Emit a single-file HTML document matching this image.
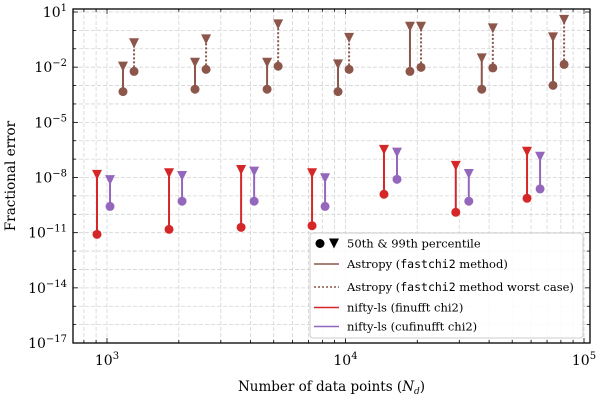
<!DOCTYPE html>
<html><head><meta charset="utf-8"><style>
body{margin:0;background:#fff;}
svg{display:block;font-family:"DejaVu Serif","Liberation Serif",serif;}
</style></head><body>
<svg id="chart" width="600" height="400" viewBox="0 0 600 400" xmlns="http://www.w3.org/2000/svg"></svg>
<script>
const nPoints = [908, 1820, 3650, 7240, 14500, 29000, 57700];
const astropyMedian = [-3.33, -3.20, -3.20, -3.33, -2.23, -3.20, -2.99];
const astropyP99 = [-1.97, -1.76, -1.76, -1.85, 0.20, -1.52, -0.38];
const astropyWorstMedian = [-2.23, -2.12, -1.95, -2.12, -2.01, -2.04, -1.85];
const astropyWorstP99 = [-0.70, -0.49, 0.33, -0.41, 0.20, 0.11, 0.57];
const finufftMedian = [-11.09, -10.82, -10.71, -10.62, -8.91, -9.89, -9.13];
const finufftP99 = [-7.86, -7.77, -7.59, -7.77, -6.50, -7.37, -6.60];
const cufinufftMedian = [-9.57, -9.29, -9.29, -9.57, -8.10, -9.29, -8.62];
const cufinufftP99 = [-8.14, -7.92, -7.68, -8.04, -6.65, -7.81, -6.87];
const yTickExps = [1, -2, -5, -8, -11, -14, -17];
const xTickExps = [3, 4, 5];

const svg = document.getElementById('chart');
const NS = 'http://www.w3.org/2000/svg';
const L = 73, R = 590, T = 9, B = 343;
const xs = v => 107 + (Math.log10(v) - 3) * 238.5;
const ys = e => 12 + (1 - e) * 18.39;
function mk(tag, attrs, parent) {
  const el = document.createElementNS(NS, tag);
  for (const k in attrs) el.setAttribute(k, attrs[k]);
  (parent || svg).appendChild(el);
  return el;
}
const grid = mk('g', {});


for (let d = 2; d <= 5; d++) for (let m = 1; m <= 9; m++) {
  const x = xs(m * Math.pow(10, d));
  if (x <= L || x >= R) continue;
  mk('line', {x1: x, x2: x, y1: T, y2: B, stroke: '#d4d4d4', 'stroke-width': 0.8, 'stroke-dasharray': '4,2'}, grid);
  mk('line', {x1: x, x2: x, y1: B, y2: B - (m === 1 ? 5 : 3), stroke: '#000', 'stroke-width': 0.8}, grid);
  mk('line', {x1: x, x2: x, y1: T, y2: T + (m === 1 ? 5 : 3), stroke: '#000', 'stroke-width': 0.8}, grid);
}
for (let e = -17; e <= 1; e++) {
  const y = ys(e);
  mk('line', {x1: L, x2: R, y1: y, y2: y, stroke: '#d4d4d4', 'stroke-width': 0.8, 'stroke-dasharray': '4,2'}, grid);
  const len = (e + 17) % 3 === 0 ? 5 : 3;
  mk('line', {x1: L, x2: L + len, y1: y, y2: y, stroke: '#000', 'stroke-width': 0.8}, grid);
  mk('line', {x1: R, x2: R - len, y1: y, y2: y, stroke: '#000', 'stroke-width': 0.8}, grid);
}
yTickExps.forEach(e => {
  const t = mk('text', {x: L - 6, y: ys(e) + 5, 'text-anchor': 'end', 'font-size': 14});
  
  
  t.innerHTML = '10<tspan dy="-6" font-size="10">' + (e < 0 ? '\u2212' + (-e) : e) + '</tspan>';
});
xTickExps.forEach(e => {
  const t = mk('text', {x: xs(Math.pow(10, e)), y: B + 22, 'text-anchor': 'middle', 'font-size': 14});
  
  
  t.innerHTML = '10<tspan dy="-6" font-size="10">' + e + '</tspan>';
});
const fr = mk('rect', {x: L, y: T, width: R - L, height: B - T, fill: 'none', stroke: '#000', 'stroke-width': 1.3});


const xt = mk('text', {x: (L + R) / 2, y: 391, 'text-anchor': 'middle', 'font-size': 13.5});


xt.innerHTML = 'Number of data points (<tspan font-style="italic">N</tspan><tspan font-style="italic" font-size="9" dy="3">d</tspan><tspan dy="-3">)</tspan>';
const yt = mk('text', {x: 15, y: (T + B) / 2, 'text-anchor': 'middle', 'font-size': 13.5, transform: 'rotate(-90 15 ' + (T + B) / 2 + ')'});


yt.textContent = 'Fractional error';
const series = [
  {name: 'astropy-fastchi2', med: astropyMedian, p99: astropyP99, f: 1.285, c: '#8c564b', dash: null},
  {name: 'astropy-fastchi2-worst', med: astropyWorstMedian, p99: astropyWorstP99, f: 1.43, c: '#8c564b', dash: '2,2'},
  {name: 'nifty-ls-finufft', med: finufftMedian, p99: finufftP99, f: 1.0, c: '#d62728', dash: null},
  {name: 'nifty-ls-cufinufft', med: cufinufftMedian, p99: cufinufftP99, f: 1.134, c: '#9467bd', dash: null}
];
function tri(x, y, c, parent) {
  return mk('path', {d: `M${x-5},${y-5} L${x+5},${y-5} L${x},${y+5} Z`, fill: c}, parent);
}
series.forEach(s => {
  const g = mk('g', {});
  
  
  nPoints.forEach((n, i) => {
    const x = xs(n * s.f), y1 = ys(s.med[i]), y2 = ys(s.p99[i]);
    const ln = mk('line', {x1: x, x2: x, y1: y1, y2: y2, stroke: s.c, 'stroke-width': 2});
    if (s.dash) ln.setAttribute('stroke-dasharray', s.dash);
    const c = mk('circle', {cx: x, cy: y1, r: 4.5, fill: s.c}, g);
    
    
    g.appendChild(ln);
    const t = tri(x, y2, s.c, g);
    
    
  });
});
const lg = mk('g', {});


mk('rect', {x: 310, y: 233, width: 273, height: 105, fill: '#fff', 'fill-opacity': 0.85, stroke: '#ccc', rx: 3}, lg);
mk('circle', {cx: 320, cy: 243.5, r: 4.5, fill: '#000'}, lg);
tri(334, 243.5, '#000', lg);
const items = [
  {y: 243.5, label: '50th &amp; 99th percentile', c: null},
  {y: 264, label: 'Astropy (<tspan font-family="DejaVu Sans Mono,Liberation Mono,monospace">fastchi2</tspan> method)', c: '#8c564b'},
  {y: 287, label: 'Astropy (<tspan font-family="DejaVu Sans Mono,Liberation Mono,monospace">fastchi2</tspan> method worst case)', c: '#8c564b', dash: '2,2'},
  {y: 307.5, label: 'nifty-ls (finufft chi2)', c: '#d62728'},
  {y: 326.5, label: 'nifty-ls (cufinufft chi2)', c: '#9467bd'}
];
items.forEach(it => {
  if (it.c) {
    const l = mk('line', {x1: 314, x2: 339, y1: it.y, y2: it.y, stroke: it.c, 'stroke-width': 1.5}, lg);
    if (it.dash) l.setAttribute('stroke-dasharray', it.dash);
  }
  const t = mk('text', {x: 347, y: it.y + 4, 'font-size': 11.5}, lg);
  
  
  t.innerHTML = it.label;
});
</script>
</body></html>
